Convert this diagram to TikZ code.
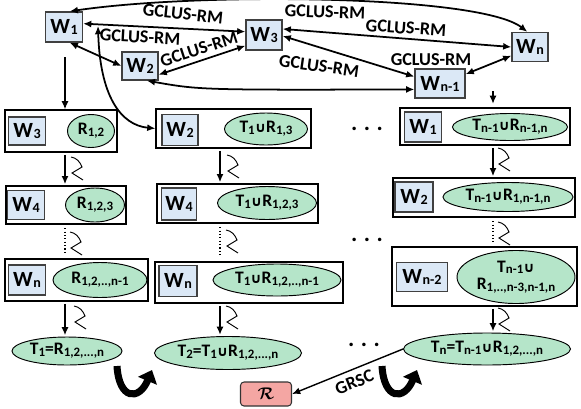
\documentclass[tikz,border=0pt]{standalone}
\usepackage{amsmath}
\usepackage{fontspec}
\setmainfont{Carlito}
\newfontfamily\symfont{DejaVu Sans}
\usetikzlibrary{arrows.meta,shapes.geometric}
\definecolor{wblue}{RGB}{219,232,246}
\definecolor{rgreen}{RGB}{181,229,201}
\definecolor{rpink}{RGB}{244,166,163}
\newcommand{\wlab}[1]{W\kern0.5pt\raisebox{-0.1ex}{\fontsize{12}{13}\selectfont #1}}
\newcommand{\sub}[1]{\raisebox{-0.2ex}{\fontsize{11}{12}\selectfont #1}}
\newcommand{\cupp}{{\symfont\bfseries\fontsize{12}{13}\selectfont ∪}}
\newcommand{\zap}[1]{\draw[line width=0.8pt] #1 .. controls +(6,1) and +(-2,-5) .. ++(11,10) -- ++(-10,6) -- ++(11,7);}
\newcommand{\uturn}[1]{\draw[line width=6pt, -{Triangle[length=10pt,width=17pt]}] #1 .. controls +(2,34) and +(-13,31) .. ++(35,4);}
\tikzset{
  wd/.style={minimum width=#1*0.03cm},
  ht/.style={minimum height=#1*0.03cm},
  wbox/.style={draw=black!75, fill=wblue, line width=1.1pt, inner sep=0pt,
    font=\fontsize{18.5}{19}\selectfont\bfseries},
  rowbox/.style={draw=black, line width=1pt, inner sep=0pt},
  rset/.style={ellipse, draw=black, fill=rgreen, line width=0.8pt, inner sep=0pt,
    font=\fontsize{15}{17}\selectfont\bfseries,
    execute at begin node={\hbox to 0pt\bgroup\hss},
    execute at end node={\hss\egroup}},
  wlink/.style={<->, line width=1.5pt},
  seq/.style={->, line width=1.4pt, shorten <=2pt, shorten >=1pt},
  gap/.style={dotted, line width=0.9pt, shorten <=3pt, shorten >=4pt},
  lab/.style={font=\fontsize{15.5}{16}\selectfont\bfseries, inner sep=0pt},
}

\begin{document}
\begin{tikzpicture}[x=0.03cm, y=-0.03cm, >={Latex[length=7pt,width=6pt]}]
	\useasboundingbox (0,0) rectangle (581,408);

	% workers on top
	\node[wbox, wd=37, ht=30] (w1) at (64,27) {\wlab{1}};
	\node[wbox, wd=36, ht=28] (w2) at (140,66) {\wlab{2}};
	\node[wbox, wd=36, ht=30] (w3) at (264,35) {\wlab{3}};
	\node[wbox, wd=50, ht=29] (wm) at (440,83.5) {\wlab{n-1}};
	\node[wbox, wd=36, ht=29] (wn) at (530,47) {\wlab{n}};

	\draw[wlink] (w1.70) .. controls (200,-8) and (480,-5) .. (wn.100);
	\draw[wlink] (w1.10) -- (w3.170);
	\draw[wlink] (w1.-70) -- (w2.west);
	\draw[wlink] (w2.-25) -- (w3.-150);
	\draw[wlink] (w2.-65) .. controls (200,90) .. (wm.-167);
	\draw[wlink] (w3.18) -- (wn.west);
	\draw[wlink] (w3.-3) -- (wm.165);
	\draw[wlink] (wm.20) -- (wn.-155);

	\node[lab, rotate=-6] (g1) at (183,14) {GCLUS-RM};
	\node[lab, rotate=-3] (g2) at (140,37) {GCLUS-RM};
	\node[lab, rotate=18] (g3) at (199,49) {GCLUS-RM};
	\node[lab, rotate=-2] (g4) at (325,12) {GCLUS-RM};
	\node[lab, rotate=-4] (g5) at (406,28) {GCLUS-RM};
	\node[lab, rotate=-8] (g6) at (319,66) {GCLUS-RM};
	\node[lab] (g7) at (431,60) {GCLUS-RM};

	% rounds
	\node[rowbox, wd=112, ht=42] (a1) at (61,131) {};
	\node[rowbox, wd=120, ht=38] (a2) at (66,205) {};
	\node[rowbox, wd=143, ht=42] (a3) at (76.5,280) {};
	\node[rowbox, wd=155, ht=39] (b1) at (233.5,128.5) {};
	\node[rowbox, wd=161, ht=39] (b2) at (237.5,203.5) {};
	\node[rowbox, wd=188, ht=41] (b3) at (249,282.5) {};
	\node[rowbox, wd=170, ht=37] (c1) at (485,126.5) {};
	\node[rowbox, wd=182, ht=39] (c2) at (484,197.5) {};
	\node[rowbox, wd=185, ht=59] (c3) at (484.5,276.5) {};

	\node[wbox, wd=37, ht=28] (a1w) at (27,131) {\wlab{3}};
	\node[rset, wd=47, ht=33] (a1r) at (91,131) {R\sub{1,2}};
	\node[wbox, wd=37, ht=29] (a2w) at (26,205) {\wlab{4}};
	\node[rset, wd=59, ht=34] (a2r) at (95,205) {R\sub{1,2,3}};
	\node[wbox, wd=37, ht=30] (a3w) at (27,280) {\wlab{n}};
	\node[rset, wd=94, ht=35] (a3r) at (100,280) {R\sub{1,2,..,n-1}};
	\node[rset, wd=110, ht=28] (t1) at (67,351) {T\sub{1}=R\sub{1,2,...,n}};

	\node[wbox, wd=36, ht=31] (b1w) at (180,130) {\wlab{2}};
	\node[rset, wd=83, ht=32] (b1r) at (266,129) {T\sub{1}\cupp R\sub{1,3}};
	\node[wbox, wd=35, ht=32] (b2w) at (179,204) {\wlab{4}};
	\node[rset, wd=99, ht=33] (b2r) at (267,203) {T\sub{1}\cupp R\sub{1,2,3}};
	\node[wbox, wd=38, ht=31] (b3w) at (178,281) {\wlab{n}};
	\node[rset, wd=128, ht=32] (b3r) at (277,280) {T\sub{1}\cupp R\sub{1,2,..,n-1}};
	\node[rset, wd=147, ht=33] (t2) at (228,353) {T\sub{2}=T\sub{1}\cupp R\sub{1,2,...,n}};

	\node[wbox, wd=37, ht=30] (c1w) at (423,127) {\wlab{1}};
	\node[rset, wd=115, ht=27] (c1r) at (510,127) {T\sub{n-1}\cupp R\sub{n-1,n}};
	\node[wbox, wd=38, ht=30] (c2w) at (414,197) {\wlab{2}};
	\node[rset, wd=130, ht=29] (c2r) at (508,197) {T\sub{n-1}\cupp R\sub{1,n-1,n}};
	\node[wbox, wd=51, ht=29] (c3w) at (422,277) {\wlab{n-2}};
	\node[rset, wd=118, ht=53] (c3r) at (516,277) {\begin{tabular}{@{}c@{}}T\sub{n-1}\cupp\\[-2pt]R\sub{1,..,n-3,n-1,n}\end{tabular}};
	\node[rset, wd=167, ht=32] (tn) at (487,349) {T\sub{n}=T\sub{n-1}\cupp R\sub{1,2,...,n}};

	% hand over
	\coordinate (cv) at (98,26);
	\draw[wlink] (cv) .. controls (100,95) and (120,125) .. (b1.west);
	\coordinate (d1) at (65,57);
	\draw[->, line width=2.2pt] (d1) -- (d1 |- a1.north);
	\coordinate (d3) at (493,91);
	\draw[->, line width=2pt, shorten >=3pt] (d3) -- (d3 |- c1.north);

	\coordinate (k1) at (65,0);
	\coordinate (k2) at (220,0);
	\coordinate (k3) at (493,0);
	\draw[seq] (k1 |- a1.south) -- (k1 |- a2.north);
	\draw[gap] (k1 |- a2.south) -- (k1 |- a3.north);
	\draw[seq] (k1 |- a3.south) -- (k1 |- t1.north);
	\draw[seq] (k2 |- b1.south) -- (k2 |- b2.north);
	\draw[gap] (k2 |- b2.south) -- (k2 |- b3.north);
	\draw[seq] (k2 |- b3.south) -- (k2 |- t2.north);
	\draw[seq] (k3 |- c1.south) -- (k3 |- c2.north);
	\draw[gap] (k3 |- c2.south) -- (k3 |- c3.north);
	\draw[seq] (k3 |- c3.south) -- (k3 |- tn.north);

	\zap{(71,157)}
	\zap{(70,232)}
	\zap{(74,306)}
	\zap{(227,155)}
	\zap{(226,230)}
	\zap{(226,306)}
	\zap{(498,148)}
	\zap{(498,222)}
	\zap{(498,308)}

	\uturn{(117,366)}
	\uturn{(382,366)}

	\node[font=\fontsize{20}{20}\selectfont\bfseries, inner sep=0pt] (dots1) at (367,129) {.\hspace{5.5pt}.\hspace{5.5pt}.};
	\node[font=\fontsize{20}{20}\selectfont\bfseries, inner sep=0pt] (dots2) at (367,240) {.\hspace{5.5pt}.\hspace{5.5pt}.};
	\node[font=\fontsize{20}{20}\selectfont\bfseries, inner sep=0pt] (dots3) at (364,345) {.\hspace{5.5pt}.\hspace{5.5pt}.};

	% result
	\node[draw=black!80, fill=rpink, rounded corners=3pt, line width=0.9pt, wd=51, ht=24,
		font=\fontsize{15}{16}\selectfont] (res) at (266,394) {$\boldsymbol{\mathcal{R}}$};
	\draw[->, line width=1.2pt] (tn.west) -- (res.east) node[lab, sloped, below=5pt, pos=0.48] (g8) {GRSC};

\end{tikzpicture}
\end{document}
